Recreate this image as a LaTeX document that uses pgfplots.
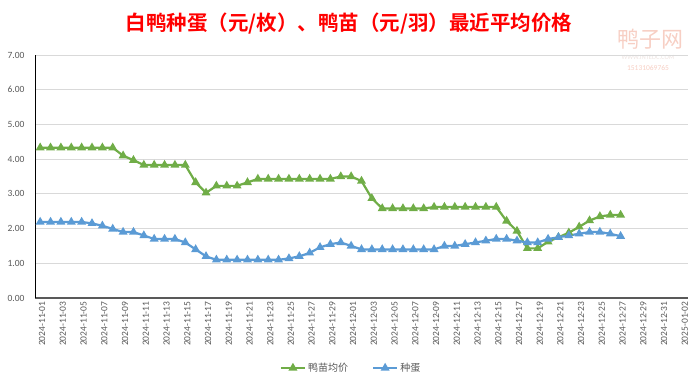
\documentclass[border=0pt]{standalone}
\usepackage{pgfplots}
\pgfplotsset{compat=1.18}
\usepackage{fontspec}
\setmainfont{Carlito}
\newfontfamily\cjk{Noto Sans CJK SC}
\newfontfamily\cjkb{Noto Sans CJK SC Bold}
\definecolor{cgreen}{HTML}{70AD47}
\definecolor{cblue}{HTML}{5B9BD5}
\definecolor{tgray}{HTML}{595959}
\definecolor{gridc}{HTML}{D9D9D9}
\definecolor{wm}{HTML}{F7CFC4}
\definecolor{wm2}{HTML}{EDE3E0}
\begin{document}
\begin{tikzpicture}
\path[use as bounding box] (0pt,0pt) rectangle (700pt,385pt);
\node[text=red, font=\cjkb\fontsize{20.5}{20.5}\selectfont] at (349pt,361pt) {白鸭种蛋（元/枚）、鸭苗（元/羽）最近平均价格};
\node[text=wm, font=\cjk\fontsize{22}{22}\selectfont] at (650pt,346pt) {鸭子网};
\node[text=wm2, font=\fontsize{6.5}{6.5}\selectfont] at (648pt,328pt) {WWW.INTEDC.COM};
\node[text=wm, font=\fontsize{7.5}{7.5}\selectfont] at (648pt,317pt) {15131069765};
\begin{axis}[
  at={(35pt,87pt)}, anchor=south west, scale only axis,
  width=653pt, height=243pt,
  xmin=-0.5, xmax=62.5, ymin=0, ymax=7,
  ytick={0,1,...,7},
  xtick={0,2,...,62},
  xticklabels={2024-11-01,2024-11-03,2024-11-05,2024-11-07,2024-11-09,2024-11-11,2024-11-13,2024-11-15,2024-11-17,2024-11-19,2024-11-21,2024-11-23,2024-11-25,2024-11-27,2024-11-29,2024-12-01,2024-12-03,2024-12-05,2024-12-07,2024-12-09,2024-12-11,2024-12-13,2024-12-15,2024-12-17,2024-12-19,2024-12-21,2024-12-23,2024-12-25,2024-12-27,2024-12-29,2024-12-31,2025-01-02},
  ymajorgrids, grid style={draw=gridc, line width=0.8pt},
  axis x line*=bottom, axis y line*=left,
  x axis line style={-, draw=tgray, line width=1.4pt},
  y axis line style={-, draw=black, line width=0.7pt},
  major tick length=0pt,
  xticklabel style={rotate=90, anchor=east, font=\fontsize{9.5}{9.5}\selectfont, text=tgray, yshift=-2pt},
  yticklabel style={font=\fontsize{9.5}{9.5}\selectfont, text=tgray, xshift=-7pt},
  y tick label style={/pgf/number format/.cd, fixed, fixed zerofill, precision=2, assume math mode=true},
  legend style={at={(0.484,-0.288)}, anchor=center, draw=none, fill=none, legend columns=2,
    font=\cjk\fontsize{10}{10}\selectfont, text=tgray,
    /tikz/every even column/.append style={column sep=22pt}},
  legend image code/.code={\draw[mark repeat=2,mark phase=2] plot coordinates {(0pt,0pt)(12pt,0pt)(24pt,0pt)};},
]
\addplot[cgreen, line width=2.2pt, mark=triangle*, mark size=3pt, mark options={solid}] coordinates {
(0,4.33)(1,4.33)(2,4.33)(3,4.33)(4,4.33)(5,4.33)(6,4.33)(7,4.33)
(8,4.10)(9,3.97)(10,3.83)(11,3.83)(12,3.83)(13,3.83)(14,3.83)
(15,3.33)(16,3.03)(17,3.23)(18,3.23)(19,3.23)(20,3.33)
(21,3.43)(22,3.43)(23,3.43)(24,3.43)(25,3.43)(26,3.43)(27,3.43)(28,3.43)
(29,3.50)(30,3.50)(31,3.37)(32,2.87)
(33,2.58)(34,2.58)(35,2.58)(36,2.58)(37,2.58)
(38,2.62)(39,2.62)(40,2.62)(41,2.62)(42,2.62)(43,2.62)(44,2.62)
(45,2.22)(46,1.93)(47,1.43)(48,1.43)(49,1.62)(50,1.75)(51,1.88)(52,2.05)(53,2.23)(54,2.35)(55,2.39)(56,2.39)
};
\addlegendentry{鸭苗均价}
\addplot[cblue, line width=2.2pt, mark=triangle*, mark size=3pt, mark options={solid}] coordinates {
(0,2.19)(1,2.19)(2,2.19)(3,2.19)(4,2.19)(5,2.15)(6,2.08)(7,1.99)
(8,1.90)(9,1.90)(10,1.80)(11,1.70)(12,1.70)(13,1.70)(14,1.60)
(15,1.40)(16,1.20)(17,1.10)(18,1.10)(19,1.10)(20,1.10)(21,1.10)(22,1.10)(23,1.10)
(24,1.14)(25,1.20)(26,1.30)(27,1.46)(28,1.55)(29,1.60)(30,1.50)
(31,1.40)(32,1.40)(33,1.40)(34,1.40)(35,1.40)(36,1.40)(37,1.40)(38,1.40)
(39,1.50)(40,1.50)(41,1.55)(42,1.60)(43,1.65)(44,1.70)(45,1.70)(46,1.65)
(47,1.60)(48,1.60)(49,1.70)(50,1.75)(51,1.80)(52,1.85)(53,1.90)(54,1.90)(55,1.85)(56,1.78)
};
\addlegendentry{种蛋}
\end{axis}
\end{tikzpicture}
\end{document}
